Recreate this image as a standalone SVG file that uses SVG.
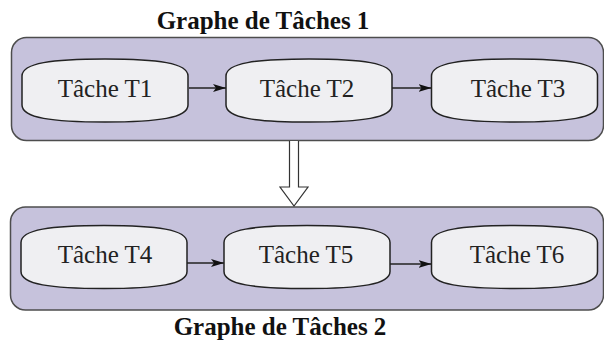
<svg xmlns="http://www.w3.org/2000/svg" xmlns:xlink="http://www.w3.org/1999/xlink" width="604" height="342" viewBox="0 0 604 342">
<style>
.cont{fill:#c6c2dc;stroke:#4d4d4d;stroke-width:1.5}
.node{fill:#efeff2;stroke:#222;stroke-width:1.5}
.lbl{font-family:"Liberation Serif",serif;font-size:25px;fill:#222;text-anchor:middle}
.title{font-family:"Liberation Serif",serif;font-size:25px;font-weight:bold;fill:#111;text-anchor:middle}
.edge{stroke:#222;stroke-width:1.3;fill:none}
</style>
<defs>
<path id="ns" d="M0,17 C0,4 30,0 83,0 C136,0 166,4 166,17 L166,46 C166,59 136,63 83,63 C30,63 0,59 0,46 Z"/>
<marker id="ah" markerUnits="userSpaceOnUse" markerWidth="14" markerHeight="10" viewBox="0 -5 14 10" refX="13" refY="0" orient="auto">
<path d="M0,-4 L13,0 L0,4 L3,0 Z" fill="#111"/>
</marker>
</defs>
<g id="graph1">
<rect class="cont" x="11.5" y="37.5" width="592" height="103" rx="15"/>
<text class="title" x="263" y="29">Graphe de Tâches 1</text>
</g>
<g id="graph2">
<rect class="cont" x="10.5" y="207" width="593" height="103" rx="15"/>
<text class="title" x="280" y="335">Graphe de Tâches 2</text>
</g>
<g id="connectors">
<line class="edge" x1="189" y1="88" x2="226" y2="88" marker-end="url(#ah)"/>
<line class="edge" x1="392" y1="88" x2="431.5" y2="88" marker-end="url(#ah)"/>
<line class="edge" x1="187" y1="263" x2="224" y2="263" marker-end="url(#ah)"/>
<line class="edge" x1="390" y1="264" x2="431.5" y2="264" marker-end="url(#ah)"/>
<g id="refine">
<path d="M289.5,141 L289.5,187 L280,187 L294,206 L308,187 L298.5,187 L298.5,141" fill="#fff" stroke="#333" stroke-width="1.2"/>
</g>
</g>
<g id="T1"><use xlink:href="#ns" class="node" x="22" y="59"/><text class="lbl" x="105" y="97">Tâche T1</text></g>
<g id="T2"><use xlink:href="#ns" class="node" x="226" y="59"/><text class="lbl" x="307" y="97">Tâche T2</text></g>
<g id="T3"><use xlink:href="#ns" class="node" x="431.5" y="59"/><text class="lbl" x="518" y="97">Tâche T3</text></g>
<g id="T4"><use xlink:href="#ns" class="node" x="21" y="225.5"/><text class="lbl" x="105" y="263">Tâche T4</text></g>
<g id="T5"><use xlink:href="#ns" class="node" x="224" y="225.5"/><text class="lbl" x="306" y="263">Tâche T5</text></g>
<g id="T6"><use xlink:href="#ns" class="node" x="431.5" y="225.5"/><text class="lbl" x="517" y="263">Tâche T6</text></g>
</svg>
